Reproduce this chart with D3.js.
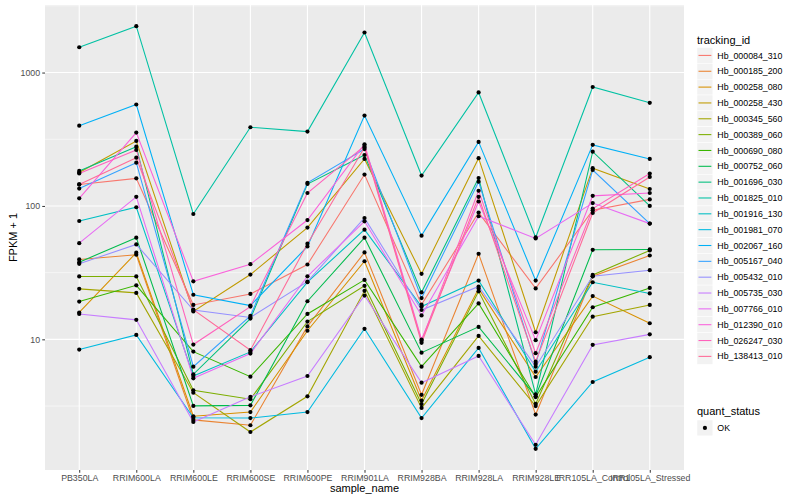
<!DOCTYPE html>
<html>
<head>
<meta charset="utf-8">
<script src="https://cdn.jsdelivr.net/npm/d3@7"></script>
<style>
  body { margin: 0; background: #fff; }
  svg { display: block; font-family: "Liberation Sans", Arial, Helvetica, sans-serif; }
</style>
</head>
<body>
<svg id="chart" width="800" height="500"></svg>
<script>
// ---------- data ----------
const samples = ["PB350LA","RRIM600LA","RRIM600LE","RRIM600SE","RRIM600PE","RRIM901LA",
  "RRIM928BA","RRIM928LA","RRIM928LE","IRR105LA_Control","IRR105LA_Stressed"];

const trackingIds = ["Hb_000084_310","Hb_000185_200","Hb_000258_080","Hb_000258_430",
  "Hb_000345_560","Hb_000389_060","Hb_000690_080","Hb_000752_060","Hb_001696_030",
  "Hb_001825_010","Hb_001916_130","Hb_001981_070","Hb_002067_160","Hb_005167_040",
  "Hb_005432_010","Hb_005735_030","Hb_007766_010","Hb_012390_010","Hb_026247_030",
  "Hb_138413_010"];

// FPKM + 1 per sample, one array per tracking id
const hb_000084_310 = [145, 161, 18.1, 21.9, 36.4, 172, 18.2, 89.2, 24.1, 92.8, 112];
const hb_000185_200 = [39.7, 43.1, 2.49, 2.27, 12.5, 44.8, 3.84, 43.8, 2.73, 29.7, 42.5];
const hb_000258_080 = [15.9, 44.6, 2.65, 2.85, 11.6, 38.5, 3.48, 24.0, 5.22, 21.1, 13.2];
const hb_000258_430 = [178, 307, 16.2, 30.6, 68.8, 225, 31.0, 228, 11.3, 192, 134];
const hb_000345_560 = [23.9, 22.3, 3.98, 2.02, 3.74, 23.1, 3.06, 10.6, 3.16, 14.8, 18.1];
const hb_000389_060 = [29.6, 29.6, 4.15, 3.56, 13.6, 25.2, 3.27, 22.9, 3.28, 30.4, 46.4];
const hb_000690_080 = [19.2, 25.4, 8.09, 5.25, 15.5, 27.9, 6.24, 18.6, 3.69, 17.4, 24.3];
const hb_000752_060 = [37.9, 57.8, 3.17, 3.2, 19.3, 57.8, 7.95, 12.4, 3.75, 46.9, 47.2];
const hb_001696_030 = [183, 278, 5.47, 14.3, 146, 241, 22.5, 162, 3.87, 255, 100];
const hb_001825_010 = [1548, 2228, 87, 389, 361, 1997, 169, 709, 58.1, 779, 593];
const hb_001916_130 = [77.1, 97.8, 5.31, 8.05, 26.8, 66.4, 17.6, 27.6, 5.72, 26.8, 22.1];
const hb_001981_070 = [8.38, 10.8, 2.58, 2.57, 2.85, 12.0, 2.57, 8.63, 1.51, 4.79, 7.35];
const hb_002067_160 = [400, 576, 21.6, 17.9, 49.7, 476, 59.9, 302, 27.6, 287, 225];
const hb_005167_040 = [135, 211, 6.24, 15.0, 149, 267, 20.4, 152, 6.54, 186, 73.7];
const hb_005432_010 = [36.8, 51.5, 16.6, 14.6, 27.1, 81.2, 16.6, 24.9, 6.24, 29.7, 33.0];
const hb_005735_030 = [15.5, 14.0, 2.40, 3.71, 5.31, 21.3, 4.73, 7.51, 1.62, 9.09, 10.9];
const hb_007766_010 = [52.6, 117, 5.10, 7.82, 29.7, 76.7, 15.1, 83.7, 57.1, 105, 73.7];
const hb_012390_010 = [114, 355, 27.2, 36.6, 78.4, 290, 9.97, 108, 9.86, 119, 125];
const hb_026247_030 = [175, 263, 9.14, 17.6, 125, 282, 9.74, 130, 7.87, 95.6, 175];
const hb_138413_010 = [145, 230, 16.7, 8.29, 52.1, 274, 9.41, 117, 6.80, 88.6, 165];

const seriesValues = [hb_000084_310, hb_000185_200, hb_000258_080, hb_000258_430,
  hb_000345_560, hb_000389_060, hb_000690_080, hb_000752_060, hb_001696_030,
  hb_001825_010, hb_001916_130, hb_001981_070, hb_002067_160, hb_005167_040,
  hb_005432_010, hb_005735_030, hb_007766_010, hb_012390_010, hb_026247_030,
  hb_138413_010];

const statusLevels = ["OK"];

// ---------- colours: ggplot2 hue palette (polar LUV, c=100, l=65) ----------
function hclLuv(h, c, l) {
  const hr = h * Math.PI / 180;
  const U = c * Math.cos(hr), V = c * Math.sin(hr);
  const Y = l > 8 ? Math.pow((l + 16) / 116, 3) : l / 903.3;
  const Xn = 0.95047, Yn = 1.0, Zn = 1.08883;
  const den = Xn + 15 * Yn + 3 * Zn;
  const un = 4 * Xn / den, vn = 9 * Yn / den;
  const u = U / (13 * l) + un, v = V / (13 * l) + vn;
  const X = Y * 9 * u / (4 * v);
  const Z = Y * (12 - 3 * u - 20 * v) / (4 * v);
  const lin = [
    3.2404542 * X - 1.5371385 * Y - 0.4985314 * Z,
    -0.9692660 * X + 1.8760108 * Y + 0.0415560 * Z,
    0.0556434 * X - 0.2040259 * Y + 1.0572252 * Z
  ];
  const g = lin.map(x => {
    const s = x <= 0.0031308 ? 12.92 * x : 1.055 * Math.pow(x, 1 / 2.4) - 0.055;
    return Math.round(Math.max(0, Math.min(1, s)) * 255);
  });
  return d3.rgb(g[0], g[1], g[2]).formatHex();
}
const n = trackingIds.length;
const palette = d3.range(n).map(i => hclLuv(15 + 360 * i / n, 100, 65));
const color = d3.scaleOrdinal().domain(trackingIds).range(palette);

// ---------- layout ----------
const svg = d3.select("#chart");
const panel = { left: 45, right: 684, top: 5, bottom: 470 };

const x = d3.scalePoint().domain(samples)
  .range([panel.left, panel.right]).padding(0.6);

const all = seriesValues.flat();
const lo = Math.log10(d3.min(all)), hi = Math.log10(d3.max(all));
const pad = (hi - lo) * 0.05;
const y = d3.scaleLog().domain([Math.pow(10, lo - pad), Math.pow(10, hi + pad)])
  .range([panel.bottom, panel.top]);

// panel background
svg.append("rect").attr("x", panel.left).attr("y", panel.top)
  .attr("width", panel.right - panel.left).attr("height", panel.bottom - panel.top)
  .attr("fill", "#EBEBEB");

const majorBreaks = [10, 100, 1000];
const minorBreaks = [0.5, 1.5, 2.5, 3.5].map(e => Math.pow(10, e))
  .filter(v => v >= y.domain()[0] && v <= y.domain()[1]);

const grid = svg.append("g");
grid.selectAll("line.minor").data(minorBreaks).join("line")
  .attr("x1", panel.left).attr("x2", panel.right)
  .attr("y1", d => y(d)).attr("y2", d => y(d))
  .attr("stroke", "#fff").attr("stroke-width", 0.55);
grid.selectAll("line.major").data(majorBreaks).join("line")
  .attr("x1", panel.left).attr("x2", panel.right)
  .attr("y1", d => y(d)).attr("y2", d => y(d))
  .attr("stroke", "#fff").attr("stroke-width", 1.1);
grid.selectAll("line.vx").data(samples).join("line")
  .attr("x1", d => x(d)).attr("x2", d => x(d))
  .attr("y1", panel.top).attr("y2", panel.bottom)
  .attr("stroke", "#fff").attr("stroke-width", 1.1);

// lines
const line = d3.line().x((d, i) => x(samples[i])).y(d => y(d));
svg.append("g").selectAll("path").data(seriesValues).join("path")
  .attr("d", line)
  .attr("fill", "none")
  .attr("stroke", (d, i) => color(trackingIds[i]))
  .attr("stroke-width", 1.07);

// points
const pts = [];
seriesValues.forEach(s => s.forEach((v, i) => pts.push({ s: samples[i], v })));
svg.append("g").selectAll("circle").data(pts).join("circle")
  .attr("cx", d => x(d.s)).attr("cy", d => y(d.v)).attr("r", 2.1)
  .attr("fill", "#000");

// axes
const yAxis = d3.axisLeft(y).tickValues(majorBreaks).tickFormat(d3.format("d"))
  .tickSize(2.75).tickPadding(2.2);
const gy = svg.append("g").attr("transform", `translate(${panel.left},0)`).call(yAxis);
gy.select(".domain").remove();
gy.selectAll(".tick line").attr("stroke", "#333");
gy.selectAll(".tick text").attr("fill", "#4D4D4D").style("font-size", "8.8px")
  .style("font-family", "'Liberation Sans', Arial, sans-serif");

const xAxis = d3.axisBottom(x).tickSize(2.75).tickPadding(2.2);
const gx = svg.append("g").attr("transform", `translate(0,${panel.bottom})`).call(xAxis);
gx.select(".domain").remove();
gx.selectAll(".tick line").attr("stroke", "#333");
gx.selectAll(".tick text").attr("fill", "#4D4D4D").style("font-size", "8.8px")
  .style("font-family", "'Liberation Sans', Arial, sans-serif");

// axis titles
svg.append("text").attr("x", (panel.left + panel.right) / 2).attr("y", 492)
  .attr("text-anchor", "middle").style("font-size", "11px").attr("fill", "#000")
  .text("sample_name");
svg.append("text").attr("transform", `translate(16.5,${(panel.top + panel.bottom) / 2}) rotate(-90)`)
  .attr("text-anchor", "middle").style("font-size", "11px").attr("fill", "#000")
  .text("FPKM + 1");

// legend: tracking_id
const key = 15.84, lgX = 697;
const lg = svg.append("g");
lg.append("text").attr("x", lgX).attr("y", 44).style("font-size", "11px").text("tracking_id");
const items = lg.selectAll("g.item").data(trackingIds).join("g")
  .attr("transform", (d, i) => `translate(${lgX},${47.5 + i * key})`);
items.append("rect").attr("width", key).attr("height", key)
  .attr("fill", "#F2F2F2").attr("stroke", "#fff").attr("stroke-width", 0.5);
items.append("line").attr("x1", 1.5).attr("x2", key - 1.5)
  .attr("y1", key / 2).attr("y2", key / 2)
  .attr("stroke", d => color(d)).attr("stroke-width", 1.07);
items.append("text").attr("x", key + 4.5).attr("y", key / 2).attr("dy", "0.35em")
  .style("font-size", "8.8px").text(d => d);

// legend: quant_status
const lg2 = svg.append("g");
lg2.append("text").attr("x", lgX).attr("y", 415).style("font-size", "11px").text("quant_status");
const it2 = lg2.selectAll("g.item").data(statusLevels).join("g")
  .attr("transform", (d, i) => `translate(${lgX},${420 + i * key})`);
it2.append("rect").attr("width", key).attr("height", key)
  .attr("fill", "#F2F2F2").attr("stroke", "#fff").attr("stroke-width", 0.5);
it2.append("circle").attr("cx", key / 2).attr("cy", key / 2).attr("r", 2.1).attr("fill", "#000");
it2.append("text").attr("x", key + 4.5).attr("y", key / 2).attr("dy", "0.35em")
  .style("font-size", "8.8px").text(d => d);
</script>
</body>
</html>
